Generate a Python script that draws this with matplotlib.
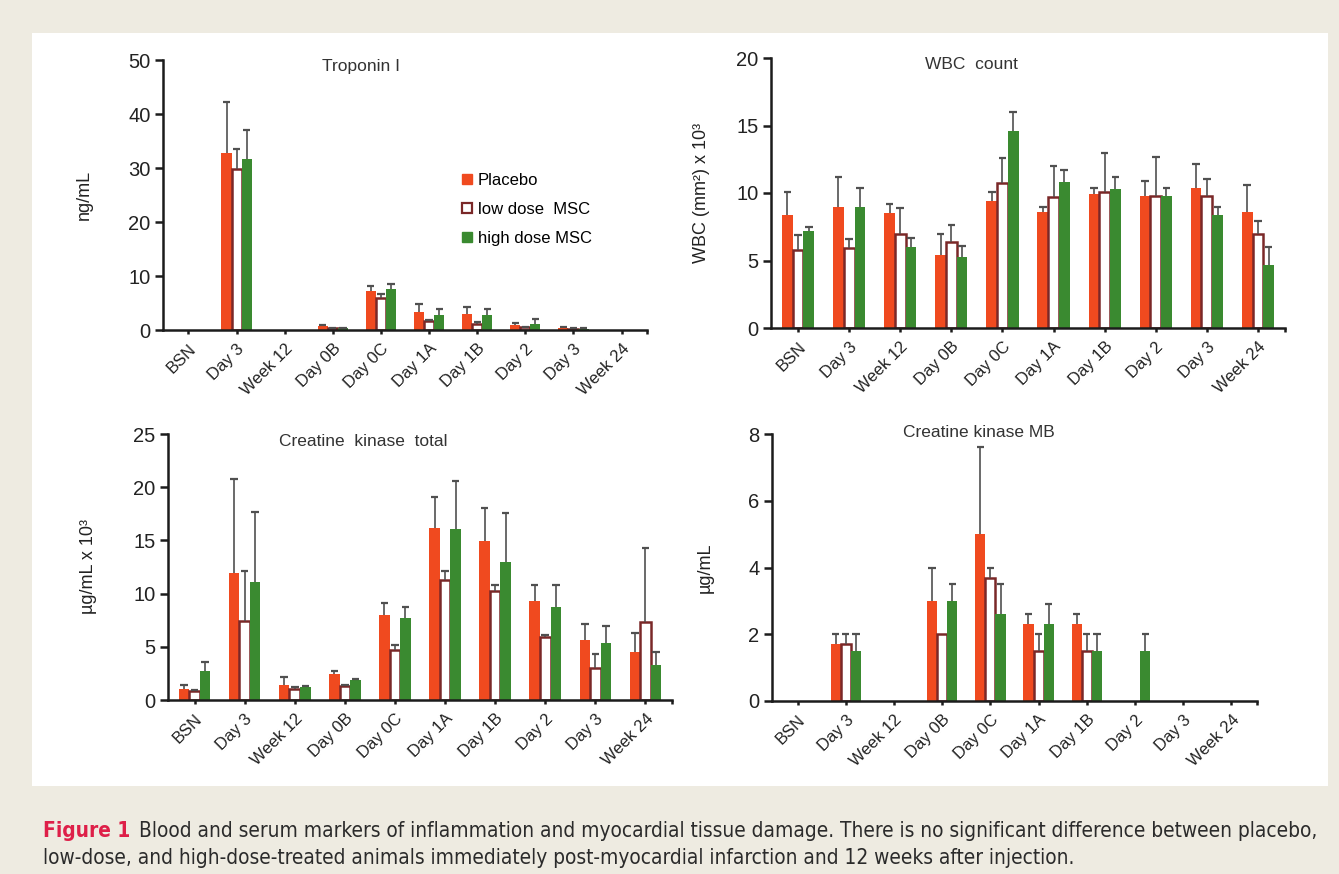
import numpy as np
import matplotlib
matplotlib.use('Agg')
import matplotlib.pyplot as plt
from matplotlib import font_manager
from matplotlib.patches import Rectangle
from matplotlib.lines import Line2D

categories = ['BSN', 'Day 3', 'Week 12', 'Day 0B', 'Day 0C',
              'Day 1A', 'Day 1B', 'Day 2', 'Day 3', 'Week 24']
series_names = ['Placebo', 'low dose  MSC', 'high dose MSC']

nan = np.nan

# Troponin I (ng/mL): mean and upper error (SEM)
trop_placebo = [nan, 32.8, nan, 0.7, 7.3, 3.4, 3.0, 1.0, 0.4, nan]
trop_placebo_sem = [nan, 9.4, nan, 0.15, 0.9, 1.5, 1.2, 0.35, 0.1, nan]
trop_low = [nan, 29.9, nan, 0.35, 5.9, 1.6, 1.2, 0.5, 0.25, nan]
trop_low_sem = [nan, 3.7, nan, 0.05, 0.8, 0.2, 0.2, 0.05, 0.05, nan]
trop_high = [nan, 31.7, nan, 0.35, 7.6, 2.85, 2.8, 1.2, 0.25, nan]
trop_high_sem = [nan, 5.4, nan, 0.05, 0.9, 0.95, 1.0, 0.8, 0.05, nan]

# WBC count (mm^2 x 10^3)
wbc_placebo = [8.4, 9.0, 8.5, 5.4, 9.4, 8.6, 9.9, 9.75, 10.4, 8.6]
wbc_placebo_sem = [1.7, 2.2, 0.7, 1.6, 0.7, 0.4, 0.5, 1.15, 1.75, 2.0]
wbc_low = [5.75, 5.9, 7.0, 6.35, 10.75, 9.7, 10.1, 9.75, 9.75, 7.0]
wbc_low_sem = [1.15, 0.7, 1.9, 1.25, 1.85, 2.3, 2.9, 2.95, 1.3, 0.9]
wbc_high = [7.15, 9.0, 6.0, 5.25, 14.6, 10.8, 10.3, 9.75, 8.35, 4.7]
wbc_high_sem = [0.3, 1.35, 0.7, 0.8, 1.4, 0.9, 0.9, 0.65, 0.6, 1.3]

# Creatine kinase total (ug/mL x 10^3)
ck_placebo = [1.0, 11.9, 1.4, 2.4, 8.0, 16.2, 14.9, 9.3, 5.6, 4.5]
ck_placebo_sem = [0.4, 8.9, 0.75, 0.3, 1.1, 2.9, 3.1, 1.5, 1.5, 1.8]
ck_low = [0.85, 7.4, 1.0, 1.3, 4.7, 11.3, 10.2, 5.9, 3.0, 7.35]
ck_low_sem = [0.1, 4.7, 0.2, 0.1, 0.5, 0.8, 0.6, 0.25, 1.3, 6.95]
ck_high = [2.7, 11.1, 1.2, 1.9, 7.7, 16.1, 13.0, 8.7, 5.35, 3.3]
ck_high_sem = [0.85, 6.6, 0.1, 0.1, 1.05, 4.5, 4.6, 2.1, 1.65, 1.2]

# Creatine kinase MB (ug/mL)
ckmb_placebo = [nan, 1.7, nan, 3.0, 5.0, 2.3, 2.3, nan, nan, nan]
ckmb_placebo_sem = [nan, 0.3, nan, 1.0, 2.6, 0.3, 0.3, nan, nan, nan]
ckmb_low = [nan, 1.7, nan, 2.0, 3.7, 1.5, 1.5, nan, nan, nan]
ckmb_low_sem = [nan, 0.3, nan, 0.0, 0.3, 0.5, 0.5, nan, nan, nan]
ckmb_high = [nan, 1.5, nan, 3.0, 2.6, 2.3, 1.5, 1.5, nan, nan]
ckmb_high_sem = [nan, 0.5, nan, 0.5, 0.9, 0.6, 0.5, 0.5, nan, nan]

caption_lead = 'Figure 1'
caption_line1 = ('Blood and serum markers of inflammation and myocardial tissue damage. '
                 'There is no significant difference between placebo,')
caption_line2 = ('low-dose, and high-dose-treated animals immediately post-myocardial '
                 'infarction and 12 weeks after injection.')

PLACEBO = '#f04a1f'
LOW_EDGE = '#7a2828'
HIGH = '#3a8a30'
ERR = '#505050'
AXIS = '#1c1c1c'
BG = '#eeebe1'

W, H = 1339, 874

plt.rcParams['font.family'] = ['Liberation Sans', 'DejaVu Sans']


def px_axes(fig, left, right, top, bottom):
    '''axes placed by pixel box of the reference picture'''
    return fig.add_axes([left / W, 1 - bottom / H, (right - left) / W, (bottom - top) / H])


def bar_panel(ax, values, ymax, ystep, title, title_xy, ylabel, ylabel_x):
    x = np.arange(len(categories))
    width = 0.21
    styles = [dict(color=PLACEBO, linewidth=0),
              dict(facecolor='white', edgecolor=LOW_EDGE, linewidth=1.8),
              dict(color=HIGH, linewidth=0)]
    offsets = [-width, 0.0, width]
    for (mean, sem), off, style in zip(values, offsets, styles):
        mean = np.asarray(mean, float)
        sem = np.asarray(sem, float)
        ok = ~np.isnan(mean)
        ax.bar(x[ok] + off, mean[ok], width, zorder=2, **style)
        e = ok & ~np.isnan(sem) & (sem > 0)
        top = mean[e] + sem[e]
        ax.vlines(x[e] + off, mean[e], top, color=ERR, lw=1.2, zorder=3)
        ax.hlines(top, x[e] + off - 0.075, x[e] + off + 0.075, color=ERR, lw=1.6, zorder=3)

    xmin, xmax = -0.53, 9.53
    ax.set_xlim(xmin, xmax)
    ax.set_ylim(0, ymax)
    ax.set_yticks(np.arange(0, ymax + 0.01, ystep))
    ax.set_xticks(x)
    ax.set_xticks([xmax], minor=True)
    ax.set_xticklabels(categories, rotation=45, ha='right', rotation_mode='anchor',
                       fontsize=12, color='#222222')
    for lab in ax.get_yticklabels():
        lab.set_fontsize(14.5)
        lab.set_color('#222222')
    for side in ('top', 'right'):
        ax.spines[side].set_visible(False)
    for side in ('left', 'bottom'):
        ax.spines[side].set_linewidth(1.8)
        ax.spines[side].set_color(AXIS)
    ax.tick_params(axis='y', direction='out', length=6, width=1.8, color=AXIS, pad=3)
    ax.tick_params(axis='x', which='both', direction='out', length=3, width=1.8,
                   color=AXIS, pad=5)
    ax.set_facecolor('white')
    ax.text(title_xy[0], title_xy[1], title, transform=ax.transAxes, ha='center',
            va='center', fontsize=12.5, color='#333333')
    ax.set_ylabel(ylabel, fontsize=13, color='#222222')
    ax.yaxis.set_label_coords(ylabel_x, 0.5)


fig = plt.figure(figsize=(W / 100, H / 100), dpi=100, facecolor=BG)
fig.patches.append(Rectangle((32 / W, 1 - 786 / H), (1328 - 32) / W, (786 - 33) / H,
                             transform=fig.transFigure, facecolor='white',
                             edgecolor='none', zorder=-1))

ax1 = px_axes(fig, 163, 647, 60, 330)
bar_panel(ax1, [(trop_placebo, trop_placebo_sem), (trop_low, trop_low_sem),
                (trop_high, trop_high_sem)],
          50, 10, 'Troponin I', (0.41, 0.975), 'ng/mL', -0.145)

ax2 = px_axes(fig, 771, 1285, 58, 328)
bar_panel(ax2, [(wbc_placebo, wbc_placebo_sem), (wbc_low, wbc_low_sem),
                (wbc_high, wbc_high_sem)],
          20, 5, 'WBC  count', (0.39, 0.975), 'WBC (mm²) x 10³', -0.119)

ax3 = px_axes(fig, 168, 672, 434, 700)
bar_panel(ax3, [(ck_placebo, ck_placebo_sem), (ck_low, ck_low_sem),
                (ck_high, ck_high_sem)],
          25, 5, 'Creatine  kinase  total', (0.387, 0.97), 'µg/mL x 10³', -0.141)

ax4 = px_axes(fig, 772, 1257, 434, 701)
bar_panel(ax4, [(ckmb_placebo, ckmb_placebo_sem), (ckmb_low, ckmb_low_sem),
                (ckmb_high, ckmb_high_sem)],
          8, 2, 'Creatine kinase MB', (0.427, 1.005), 'µg/mL', -0.12)

handles = [Line2D([], [], ls='none', marker='s', markersize=7, markerfacecolor=PLACEBO,
                  markeredgecolor=PLACEBO),
           Line2D([], [], ls='none', marker='s', markersize=7, markerfacecolor='white',
                  markeredgecolor=LOW_EDGE, markeredgewidth=1.6),
           Line2D([], [], ls='none', marker='s', markersize=7, markerfacecolor=HIGH,
                  markeredgecolor=HIGH)]
ax1.legend(handles, series_names, loc='upper left', bbox_to_anchor=(0.6, 0.605),
           frameon=False, fontsize=12, handlelength=0.8, handletextpad=0.25,
           labelspacing=0.83, borderaxespad=0)

# caption, scaled so the first line runs to the right edge of the white panel
cond = [f for f in font_manager.fontManager.ttflist
        if f.name == 'DejaVu Sans' and f.stretch == 'condensed' and f.style == 'normal']
if cond:
    cap_font = dict(family='DejaVu Sans', fontstretch='condensed')
else:
    cap_font = dict(family='Liberation Sans')
renderer = fig.canvas.get_renderer()
fs = 13.0
target = 1313
for _ in range(4):
    for t in list(fig.texts):
        t.remove()
    lead = fig.text(43 / W, 1 - 831 / H, caption_lead, fontsize=fs, fontweight='bold',
                    color='#de1f48', va='center', ha='left', **cap_font)
    lead_end = lead.get_window_extent(renderer).x1
    body1 = fig.text((lead_end + 0.6 * fs) / W, 1 - 831 / H, caption_line1, fontsize=fs,
                     color='#2b2b2b', va='center', ha='left', **cap_font)
    end = body1.get_window_extent(renderer).x1
    if abs(end - target) < 1:
        break
    fs = fs * (target - 43) / (end - 43)
fig.text(43 / W, 1 - 858 / H, caption_line2, fontsize=body1.get_fontsize(),
         color='#2b2b2b', va='center', ha='left', **cap_font)

fig.savefig('out.png', dpi=100, facecolor=BG)
